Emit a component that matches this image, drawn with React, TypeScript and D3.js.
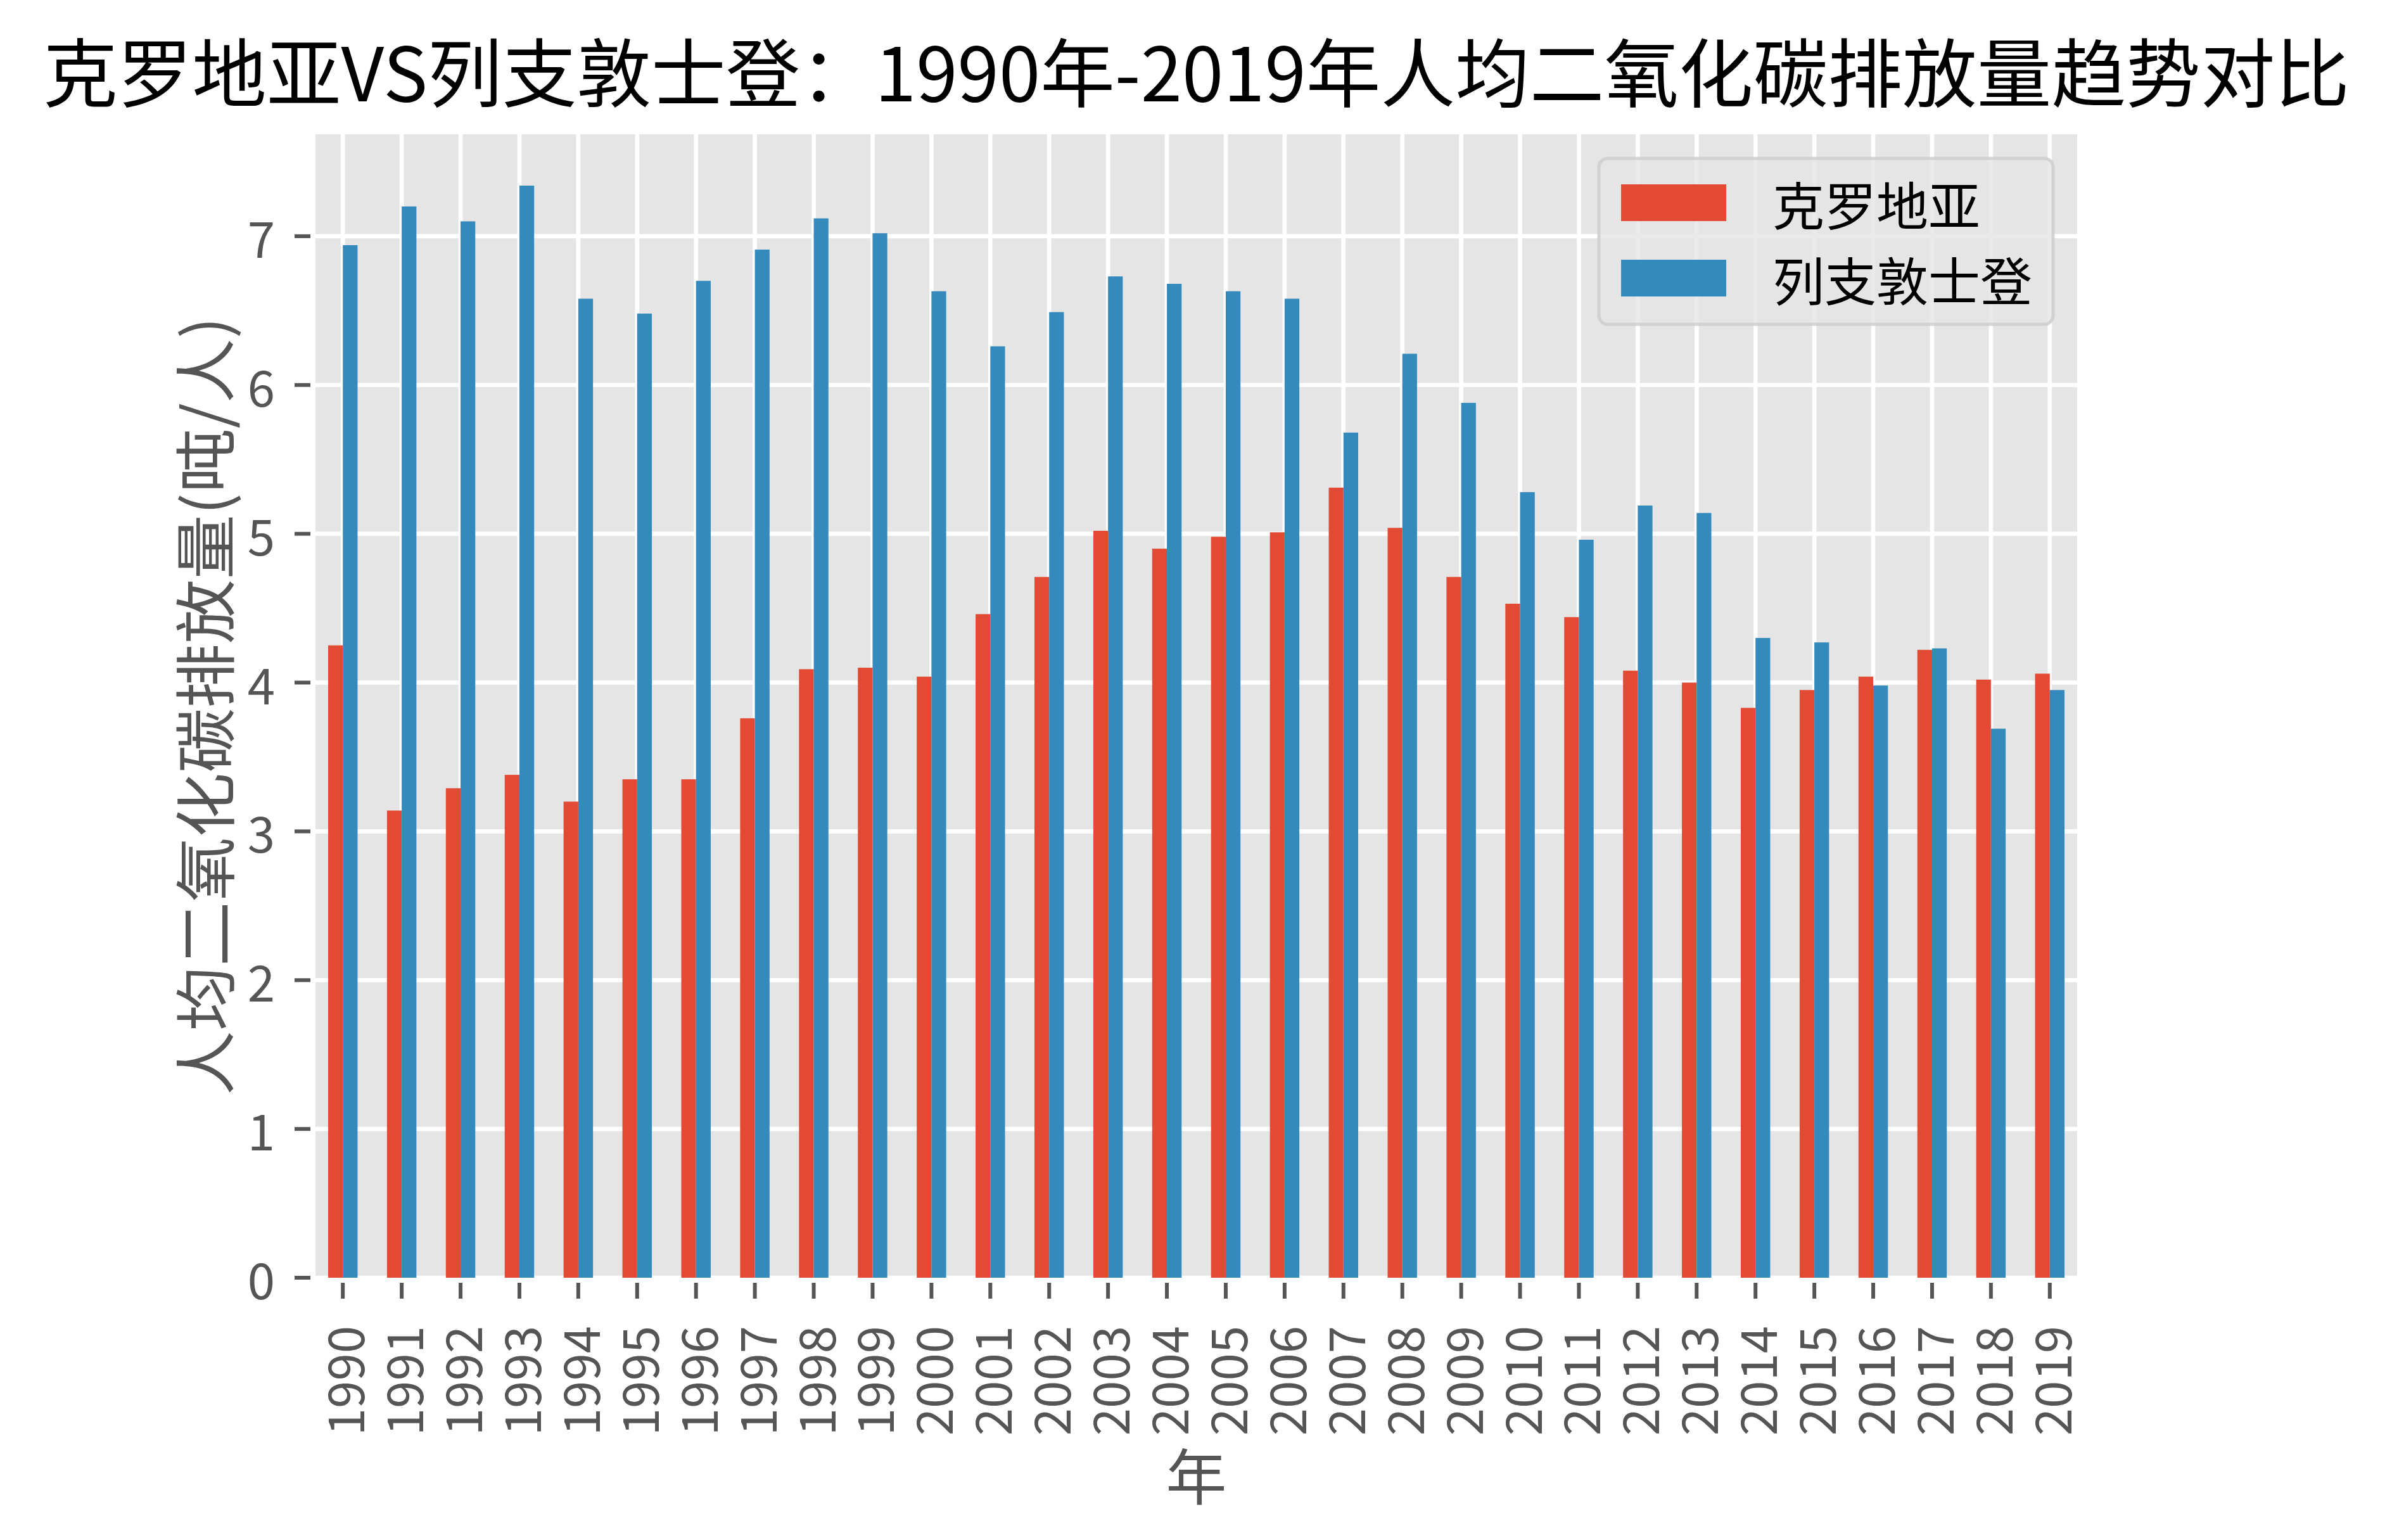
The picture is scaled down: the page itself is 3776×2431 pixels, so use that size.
import React from "react";
import * as d3 from "d3";

const years: string[] = [
  "1990","1991","1992","1993","1994","1995","1996","1997","1998","1999",
  "2000","2001","2002","2003","2004","2005","2006","2007","2008","2009",
  "2010","2011","2012","2013","2014","2015","2016","2017","2018","2019",
];
const croatia: number[] = [
  4.25, 3.14, 3.29, 3.38, 3.20, 3.35, 3.35, 3.76, 4.09, 4.10,
  4.04, 4.46, 4.71, 5.02, 4.90, 4.98, 5.01, 5.31, 5.04, 4.71,
  4.53, 4.44, 4.08, 4.00, 3.83, 3.95, 4.04, 4.22, 4.02, 4.06,
];
const liechtenstein: number[] = [
  6.94, 7.20, 7.10, 7.34, 6.58, 6.48, 6.70, 6.91, 7.12, 7.02,
  6.63, 6.26, 6.49, 6.73, 6.68, 6.63, 6.58, 5.68, 6.21, 5.88,
  5.28, 4.96, 5.19, 5.14, 4.30, 4.27, 3.98, 4.23, 3.69, 3.95,
];
const seriesNames: string[] = ["克罗地亚", "列支敦士登"];
const seriesColors: string[] = ["#E24A33", "#348ABD"];
const yTicks: number[] = [0, 1, 2, 3, 4, 5, 6, 7];
const titleText = "克罗地亚VS列支敦士登：1990年-2019年人均二氧化碳排放量趋势对比";
const yLabelText = "人均二氧化碳排放量(吨/人)";
const xLabelText = "年";

const W = 3776;
const H = 2431;
const L = 498, R = 3279, T = 212, B = 2017;
const FONT = "'Noto Sans CJK SC', 'Noto Sans', sans-serif";

export default function App() {
  const pad = 0.465;
  const x = d3.scaleLinear().domain([-pad, years.length - 1 + pad]).range([L, R]);
  const yMax = d3.max([...croatia, ...liechtenstein]) as number;
  const y = d3.scaleLinear().domain([0, yMax * 1.047]).range([B, T]);
  const bw = 0.25;
  const series = [croatia, liechtenstein];
  const tickColor = "#555555";

  return (
    <svg width={W} height={H} style={{ position: "absolute", left: 0, top: 0, background: "#fff" }}
      fontFamily={FONT}>
      <rect x={0} y={0} width={W} height={H} fill="#ffffff" />
      {/* plot background */}
      <rect x={L} y={T} width={R - L} height={B - T} fill="#E5E5E5" />
      {/* gridlines */}
      {years.map((_, i) => (
        <line key={"vg" + i} x1={x(i)} x2={x(i)} y1={T} y2={B} stroke="#ffffff" strokeWidth={6.7} />
      ))}
      {yTicks.map((t) => (
        <line key={"hg" + t} x1={L} x2={R} y1={y(t)} y2={y(t)} stroke="#ffffff" strokeWidth={6.7} />
      ))}
      {/* bars */}
      {series.map((vals, s) =>
        vals.map((v, i) => {
          const x0 = x(i - bw + s * bw);
          const x1 = x(i + s * bw);
          return (
            <rect key={"b" + s + "-" + i} x={x0} y={y(v)} width={x1 - x0} height={y(0) - y(v)}
              fill={seriesColors[s]} />
          );
        })
      )}
      {/* y ticks */}
      {yTicks.map((t) => (
        <g key={"yt" + t}>
          <line x1={L - 33} x2={L - 8} y1={y(t)} y2={y(t)} stroke={tickColor} strokeWidth={6} />
          <text x={434} y={y(t)} textAnchor="end" dominantBaseline="central" fontSize={78} fill={tickColor}>
            {t}
          </text>
        </g>
      ))}
      {/* x ticks */}
      {years.map((yr, i) => (
        <g key={"xt" + i}>
          <line x1={x(i)} x2={x(i)} y1={B + 8} y2={B + 33} stroke={tickColor} strokeWidth={6} />
          <text transform={`translate(${x(i)},${2093}) rotate(-90)`} textAnchor="end"
            dominantBaseline="central" fontSize={78} fill={tickColor}>
            {yr}
          </text>
        </g>
      ))}
      {/* axis labels */}
      <text transform={`translate(318,${(T + B) / 2}) rotate(-90)`} textAnchor="middle"
        dominantBaseline="central" fontSize={98} fill={tickColor} textLength={1229}
        lengthAdjust="spacingAndGlyphs">
        {yLabelText}
      </text>
      <text x={(L + R) / 2} y={2325} textAnchor="middle" dominantBaseline="central" fontSize={96} fill={tickColor}>
        {xLabelText}
      </text>
      {/* title */}
      <text x={(L + R) / 2} y={160} textAnchor="middle" fontSize={118} fill="#000000"
        textLength={3641} lengthAdjust="spacingAndGlyphs">
        {titleText}
      </text>
      {/* legend */}
      <g>
        <rect x={2524} y={250} width={717} height={262} rx={14} ry={14}
          fill="#E5E5E5" fillOpacity={0.8} stroke="#CCCCCC" strokeOpacity={0.8} strokeWidth={5} />
        {seriesNames.map((name, s) => (
          <g key={"lg" + s}>
            <rect x={2559} y={291 + s * 119} width={166} height={58} fill={seriesColors[s]} />
            <text x={2798} y={320 + s * 119} dominantBaseline="central" fontSize={82} fill="#000000">
              {name}
            </text>
          </g>
        ))}
      </g>
    </svg>
  );
}
